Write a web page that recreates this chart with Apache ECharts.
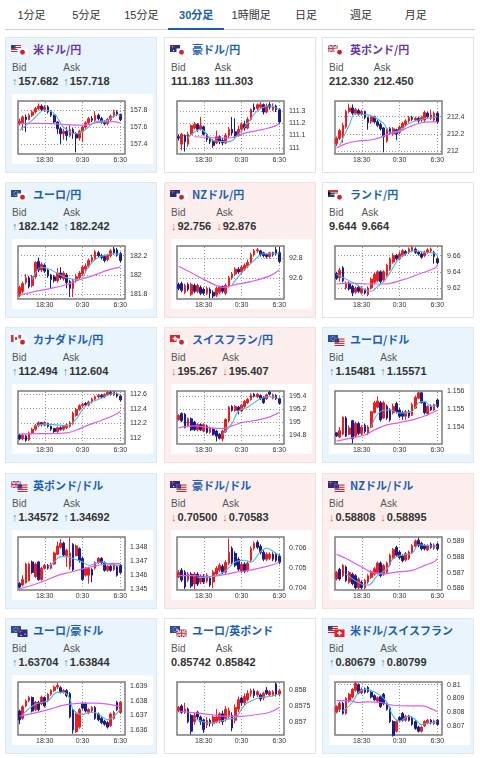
<!DOCTYPE html>
<html>
<head>
<meta charset="utf-8">
<script src="https://cdn.jsdelivr.net/npm/echarts@6/dist/echarts.min.js"></script>
<style>
body { margin: 0; width: 480px; height: 758px; background: #fff; position: relative; overflow: hidden;
  font-family: "Liberation Sans", Arial, "Noto Sans CJK JP", sans-serif; }
.tab { position: absolute; top: 6px; width: 55px; text-align: center; font-size: 11px; line-height: 18px; color: #333;
  font-family: "Liberation Sans", "Noto Sans CJK JP", sans-serif; }
.tab.on { color: #1b5dab; font-weight: bold; }
.tabline { position: absolute; left: 5px; top: 29px; width: 470px; height: 1px; background: #cfcfcf; }
.tabbar { position: absolute; top: 28px; height: 2px; background: #1b5dab; }
.card { position: absolute; width: 150px; height: 134px; border: 1px solid #e2e2e2; }
.card.up { background: #eaf4fc; border-color: #dfe8f0; }
.card.down { background: #fdeeee; border-color: #f1e1e1; }
.card.flat { background: #fff; border-color: #e2e2e2; }
.flag { position: absolute; left: 5px; top: 7px; }
.title { position: absolute; left: 27px; top: 3px; line-height: 17px; font-size: 11px; font-weight: bold; color: #1a5fb4;
  font-family: "Noto Sans CJK JP", sans-serif; }
.title.visited { color: #6a35a8; }
.quote { position: absolute; left: 6px; top: 23px; white-space: nowrap; }
.col { display: inline-block; margin-right: 5px; vertical-align: top; }
.lbl { font-size: 10px; line-height: 13px; color: #555; }
.val { font-size: 11px; line-height: 14px; font-weight: bold; color: #333; }
.arr { font-weight: normal; color: #4a8fb0; margin-right: 1px; }
.arr.dn { color: #e0605f; }
.chart { position: absolute; left: 6px; top: 56px; width: 141px; height: 70px; background: #fff; }
</style>
</head>
<body>
<script>
var tabs = ['1分足', '5分足', '15分足', '30分足', '1時間足', '日足', '週足', '月足'];
var activeTab = 3;

var times = ['14:30', '15:00', '15:30', '16:00', '16:30', '17:00', '17:30', '18:00', '18:30', '19:00',
  '19:30', '20:00', '20:30', '21:00', '21:30', '22:00', '22:30', '23:00', '23:30', '0:00',
  '0:30', '1:00', '1:30', '2:00', '2:30', '3:00', '3:30', '4:00', '4:30', '5:00',
  '5:30', '6:00', '6:30', '7:00'];
var timeLabels = ['18:30', '0:30', '6:30'];

var pairs = ['米ドル/円', '豪ドル/円', '英ポンド/円', 'ユーロ/円', 'NZドル/円', 'ランド/円',
  'カナダドル/円', 'スイスフラン/円', 'ユーロ/ドル', '英ポンド/ドル', '豪ドル/ドル', 'NZドル/ドル',
  'ユーロ/豪ドル', 'ユーロ/英ポンド', '米ドル/スイスフラン'];
var flags = [['us', 'jp'], ['au', 'jp'], ['gb', 'jp'], ['eu', 'jp'], ['nz', 'jp'], ['za', 'jp'],
  ['ca', 'jp'], ['ch', 'jp'], ['eu', 'us'], ['gb', 'us'], ['au', 'us'], ['nz', 'us'],
  ['eu', 'au'], ['eu', 'gb'], ['us', 'ch']];
var visited = [true, false, true, false, false, false, false, false, false, false, false, false, false, false, false];
var bids = ['157.682', '111.183', '212.330', '182.142', '92.756', '9.644', '112.494', '195.267',
  '1.15481', '1.34572', '0.70500', '0.58808', '1.63704', '0.85742', '0.80679'];
var asks = ['157.718', '111.303', '212.450', '182.242', '92.876', '9.664', '112.604', '195.407',
  '1.15571', '1.34692', '0.70583', '0.58895', '1.63844', '0.85842', '0.80799'];
var moves = ['up', 'flat', 'flat', 'up', 'down', 'flat', 'up', 'down',
  'up', 'up', 'down', 'down', 'up', 'flat', 'up'];

var yMin = [157.28, 110.95, 211.97, 181.75, 92.38, 9.6065, 111.92, 194.66,
  1.15306, 1.34494, 0.7039, 0.5859, 1.63566, 0.85658, 0.80632];
var yMax = [157.91, 111.38, 212.58, 182.30, 92.93, 9.6718, 112.64, 195.48,
  1.15600, 1.34874, 0.70657, 0.58925, 1.63929, 0.85826, 0.8102];
var yTicks = [
  [157.4, 157.6, 157.8], [111, 111.1, 111.2, 111.3], [212, 212.2, 212.4],
  [181.8, 182, 182.2], [92.6, 92.8], [9.62, 9.64, 9.66],
  [112, 112.2, 112.4, 112.6], [194.8, 195, 195.2, 195.4], [1.154, 1.155, 1.156],
  [1.345, 1.346, 1.347, 1.348], [0.704, 0.705, 0.706], [0.586, 0.587, 0.588, 0.589],
  [1.636, 1.637, 1.638, 1.639], [0.857, 0.8575, 0.858], [0.807, 0.808, 0.809, 0.81]
];

// [open, close, low, high]
var usdJpy = [[157.64,157.67,157.62,157.70],[157.64,157.72,157.56,157.74],[157.72,157.69,157.54,157.75],[157.69,157.74,157.68,157.76],[157.74,157.78,157.72,157.80],[157.78,157.82,157.76,157.84],[157.82,157.85,157.80,157.88],[157.85,157.81,157.79,157.87],[157.81,157.84,157.78,157.86],[157.84,157.78,157.76,157.86],[157.78,157.74,157.72,157.80],[157.74,157.66,157.64,157.75],[157.66,157.58,157.52,157.67],[157.58,157.52,157.40,157.60],[157.52,157.55,157.45,157.58],[157.55,157.50,157.44,157.60],[157.50,157.57,157.48,157.62],[157.57,157.52,157.46,157.59],[157.52,157.47,157.30,157.54],[157.47,157.55,157.44,157.57],[157.55,157.60,157.42,157.62],[157.60,157.65,157.58,157.67],[157.65,157.70,157.63,157.72],[157.70,157.68,157.66,157.73],[157.68,157.74,157.66,157.79],[157.74,157.70,157.68,157.76],[157.70,157.66,157.64,157.72],[157.66,157.64,157.62,157.68],[157.64,157.69,157.62,157.71],[157.69,157.73,157.67,157.75],[157.73,157.78,157.71,157.81],[157.78,157.75,157.73,157.80],[157.75,157.69,157.67,157.76]];
var usdJpyFast = [[0,157.56],[4,157.68],[8,157.80],[11,157.76],[14,157.60],[18,157.52],[21,157.57],[24,157.66],[28,157.68],[31,157.75],[32,157.73]];
var usdJpySlow = [[0,157.645],[5,157.645],[10,157.64],[15,157.63],[20,157.62],[25,157.655],[30,157.665],[32,157.645]];

var audJpy = [[111.09,111.08,111.06,111.11],[111.03,111.11,110.98,111.12],[111.10,111.05,110.97,111.11],[111.03,111.11,111.01,111.13],[111.11,111.18,111.10,111.19],[111.16,111.19,111.15,111.21],[111.19,111.15,111.13,111.20],[111.15,111.18,111.14,111.25],[111.17,111.11,111.10,111.18],[111.11,111.07,111.05,111.12],[111.08,111.05,111.03,111.09],[111.05,111.02,111.00,111.07],[111.04,111.09,111.03,111.14],[111.09,111.05,111.03,111.10],[111.06,111.04,111.02,111.08],[111.04,111.10,111.03,111.12],[111.10,111.15,111.08,111.17],[111.15,111.12,111.10,111.25],[111.13,111.10,111.08,111.24],[111.10,111.15,111.09,111.18],[111.15,111.19,111.13,111.21],[111.19,111.16,111.14,111.22],[111.16,111.23,111.15,111.25],[111.23,111.31,111.22,111.32],[111.33,111.31,111.29,111.36],[111.32,111.35,111.30,111.36],[111.33,111.35,111.32,111.37],[111.35,111.29,111.27,111.36],[111.29,111.34,111.28,111.36],[111.35,111.33,111.31,111.37],[111.31,111.34,111.30,111.36],[111.34,111.31,111.29,111.35],[111.31,111.21,111.19,111.32]];
var audJpyFast = [[3,111.08],[7,111.15],[11,111.06],[16,111.05],[19,111.11],[22,111.20],[25,111.30],[29,111.34],[32,111.31]];
var audJpySlow = [[5,111.09],[16,111.08],[21,111.12],[27,111.15],[31,111.18],[32,111.20]];

var gbpJpy = [[212.09,212.15,212.06,212.17],[212.15,212.24,212.13,212.26],[212.18,212.30,212.10,212.33],[212.28,212.46,212.26,212.48],[212.46,212.50,212.44,212.55],[212.50,212.44,212.42,212.54],[212.44,212.48,212.42,212.50],[212.47,212.43,212.41,212.49],[212.43,212.46,212.41,212.48],[212.46,212.39,212.37,212.47],[212.39,212.33,212.25,212.40],[212.34,212.40,212.32,212.42],[212.40,212.34,212.32,212.41],[212.34,212.30,212.28,212.36],[212.31,212.26,212.24,212.33],[212.27,212.17,211.99,212.28],[212.12,212.26,212.10,212.28],[212.26,212.21,212.19,212.28],[212.20,212.26,212.18,212.28],[212.25,212.20,212.13,212.26],[212.22,212.28,212.20,212.30],[212.27,212.32,212.25,212.34],[212.31,212.35,212.29,212.37],[212.35,212.39,212.33,212.41],[212.39,212.37,212.35,212.41],[212.36,212.38,212.35,212.40],[212.38,212.35,212.33,212.40],[212.36,212.39,212.34,212.41],[212.36,212.45,212.34,212.47],[212.44,212.40,212.38,212.46],[212.38,212.42,212.36,212.48],[212.36,212.44,212.34,212.46],[212.44,212.34,212.32,212.46]];
var gbpJpyFast = [[1,212.07],[4,212.30],[6,212.43],[10,212.42],[15,212.32],[17,212.22],[20,212.24],[23,212.32],[27,212.37],[31,212.39],[32,212.40]];
var gbpJpySlow = [[0,212.04],[3,212.09],[7,212.12],[12,212.14],[16,212.19],[20,212.23],[23,212.28],[27,212.33],[30,212.34],[32,212.34]];

var eurJpy = [[181.79,181.87,181.77,181.89],[181.83,181.91,181.81,181.93],[181.92,181.97,181.90,182.01],[181.97,181.88,181.86,181.99],[181.89,181.98,181.87,182.00],[181.98,182.13,181.96,182.14],[182.14,182.05,182.03,182.18],[182.05,182.11,182.03,182.13],[182.10,182.04,182.02,182.12],[182.05,181.99,181.97,182.06],[182.00,181.95,181.86,182.01],[181.98,181.94,181.92,182.00],[181.94,182.02,181.92,182.07],[182.02,181.97,181.95,182.08],[181.96,182.02,181.94,182.04],[182.00,181.92,181.86,182.02],[181.93,181.86,181.77,181.95],[181.86,181.94,181.77,181.96],[181.94,181.98,181.92,182.01],[181.97,182.02,181.95,182.04],[182.01,182.08,181.99,182.10],[182.06,182.09,182.04,182.12],[182.09,182.15,182.07,182.17],[182.15,182.18,182.13,182.21],[182.17,182.24,182.15,182.26],[182.23,182.20,182.18,182.25],[182.20,182.18,182.16,182.22],[182.19,182.15,182.13,182.21],[182.16,182.20,182.14,182.22],[182.20,182.25,182.18,182.27],[182.27,182.23,182.21,182.29],[182.26,182.21,182.19,182.28],[182.22,182.15,182.13,182.24]];
var eurJpyFast = [[4,181.95],[7,182.08],[15,181.97],[19,181.95],[22,182.09],[25,182.18],[30,182.22],[32,182.21]];
var eurJpySlow = [[0,181.79],[5,181.83],[10,181.86],[15,181.90],[19,181.95],[24,182.00],[28,182.05],[32,182.08]];

var nzdJpy = [[92.53,92.49,92.47,92.55],[92.54,92.47,92.45,92.56],[92.45,92.52,92.43,92.54],[92.53,92.48,92.46,92.55],[92.43,92.53,92.41,92.55],[92.52,92.46,92.44,92.54],[92.46,92.52,92.44,92.54],[92.50,92.44,92.42,92.52],[92.48,92.44,92.42,92.50],[92.44,92.49,92.42,92.51],[92.48,92.44,92.39,92.50],[92.45,92.41,92.39,92.47],[92.42,92.49,92.40,92.51],[92.45,92.51,92.43,92.52],[92.51,92.46,92.44,92.52],[92.44,92.52,92.42,92.54],[92.52,92.60,92.50,92.62],[92.60,92.64,92.58,92.66],[92.64,92.69,92.62,92.71],[92.69,92.66,92.64,92.71],[92.66,92.71,92.64,92.73],[92.69,92.73,92.67,92.75],[92.72,92.76,92.70,92.79],[92.76,92.84,92.74,92.86],[92.84,92.88,92.82,92.90],[92.88,92.89,92.86,92.91],[92.88,92.84,92.82,92.89],[92.86,92.83,92.81,92.87],[92.84,92.82,92.80,92.85],[92.82,92.86,92.80,92.87],[92.86,92.84,92.82,92.87],[92.89,92.85,92.83,92.92],[92.86,92.77,92.75,92.92]];
var nzdJpyFast = [[17,92.53],[20,92.65],[24,92.78],[27,92.85],[32,92.85]];
var nzdJpySlow = [[0,92.72],[3,92.67],[7,92.60],[12,92.52],[14,92.50],[18,92.53],[23,92.56],[29,92.62],[32,92.68]];

var zarJpy = [[9.638,9.632,9.630,9.640],[9.633,9.642,9.628,9.645],[9.645,9.629,9.627,9.647],[9.620,9.626,9.618,9.628],[9.626,9.619,9.617,9.628],[9.622,9.614,9.610,9.624],[9.615,9.620,9.613,9.622],[9.621,9.616,9.614,9.623],[9.614,9.620,9.612,9.622],[9.618,9.614,9.612,9.619],[9.612,9.620,9.610,9.622],[9.620,9.631,9.618,9.633],[9.627,9.637,9.625,9.639],[9.629,9.640,9.627,9.642],[9.640,9.628,9.626,9.642],[9.630,9.640,9.628,9.642],[9.636,9.648,9.634,9.650],[9.643,9.656,9.641,9.658],[9.652,9.660,9.650,9.663],[9.660,9.656,9.654,9.662],[9.656,9.662,9.654,9.665],[9.660,9.666,9.658,9.668],[9.665,9.662,9.660,9.667],[9.664,9.668,9.662,9.670],[9.666,9.670,9.664,9.672],[9.668,9.664,9.662,9.670],[9.664,9.662,9.660,9.666],[9.662,9.658,9.656,9.664],[9.660,9.664,9.658,9.666],[9.664,9.667,9.662,9.669],[9.666,9.668,9.664,9.670],[9.664,9.659,9.650,9.666],[9.656,9.651,9.649,9.658]];
var zarJpyFast = [[0,9.637],[3,9.631],[6,9.625],[9,9.618],[11,9.616],[13,9.622],[15,9.628],[17,9.639],[19,9.652],[21,9.660],[25,9.666],[28,9.664],[31,9.663],[32,9.660]];
var zarJpySlow = [[0,9.625],[5,9.626],[10,9.625],[15,9.625],[21,9.630],[26,9.637],[31,9.644],[32,9.648]];

var cadJpy = [[112.04,111.99,111.97,112.06],[111.99,112.04,111.97,112.06],[112.03,111.97,111.95,112.05],[111.98,112.07,111.96,112.09],[112.07,112.12,112.05,112.14],[112.12,112.17,112.10,112.19],[112.17,112.21,112.15,112.23],[112.21,112.18,112.16,112.22],[112.18,112.21,112.16,112.23],[112.20,112.16,112.14,112.21],[112.16,112.12,112.10,112.17],[112.13,112.09,112.07,112.14],[112.09,112.14,112.07,112.16],[112.14,112.12,112.10,112.16],[112.12,112.16,112.10,112.17],[112.14,112.18,112.12,112.20],[112.16,112.21,112.14,112.23],[112.20,112.34,112.18,112.36],[112.31,112.39,112.29,112.41],[112.39,112.44,112.37,112.46],[112.44,112.46,112.42,112.48],[112.47,112.45,112.43,112.49],[112.45,112.49,112.43,112.51],[112.49,112.53,112.47,112.55],[112.53,112.56,112.51,112.58],[112.56,112.58,112.54,112.60],[112.58,112.56,112.54,112.60],[112.56,112.59,112.54,112.61],[112.59,112.62,112.57,112.64],[112.62,112.60,112.58,112.64],[112.59,112.63,112.57,112.64],[112.60,112.57,112.55,112.62],[112.57,112.52,112.50,112.59]];
var cadJpyFast = [[5,112.16],[8,112.19],[15,112.17],[18,112.26],[20,112.39],[22,112.47],[26,112.54],[30,112.61],[32,112.59]];
var cadJpySlow = [[0,112.055],[5,112.06],[10,112.06],[15,112.07],[18,112.11],[22,112.18],[26,112.24],[30,112.31],[32,112.36]];

var chfJpy = [[195.04,195.10,195.02,195.12],[195.13,195.02,195.00,195.15],[195.12,194.92,194.90,195.14],[194.94,195.05,194.92,195.07],[195.05,194.88,194.86,195.07],[195.00,194.88,194.86,195.02],[194.88,194.96,194.86,194.98],[194.96,194.88,194.86,194.98],[194.86,194.96,194.84,194.98],[194.94,194.84,194.82,194.96],[194.84,194.91,194.82,194.93],[194.89,194.81,194.79,194.91],[194.86,194.78,194.70,194.88],[194.81,194.75,194.73,194.83],[194.74,194.86,194.70,194.88],[194.85,195.04,194.83,195.06],[195.02,195.23,195.00,195.25],[195.24,195.18,195.16,195.26],[195.18,195.24,195.16,195.26],[195.23,195.18,195.12,195.25],[195.17,195.26,195.15,195.28],[195.24,195.32,195.22,195.34],[195.30,195.35,195.28,195.37],[195.35,195.42,195.33,195.44],[195.43,195.40,195.38,195.45],[195.39,195.43,195.37,195.45],[195.41,195.36,195.34,195.43],[195.38,195.30,195.28,195.40],[195.36,195.42,195.34,195.44],[195.46,195.43,195.41,195.48],[195.37,195.42,195.35,195.44],[195.41,195.36,195.34,195.43],[195.36,195.29,195.27,195.38]];
var chfJpyFast = [[14,194.81],[17,194.98],[19,195.17],[22,195.23],[26,195.36],[29,195.39],[32,195.36]];
var chfJpySlow = [[0,194.91],[5,194.94],[10,194.91],[14,194.90],[17,194.94],[20,194.99],[25,195.03],[29,195.08],[32,195.15]];

var eurUsd = [[1.15368,1.15352,1.15345,1.15370],[1.15345,1.15380,1.15340,1.15400],[1.15360,1.15455,1.15355,1.15460],[1.15450,1.15350,1.15345,1.15460],[1.15360,1.15395,1.15355,1.15410],[1.15435,1.15335,1.15310,1.15440],[1.15350,1.15420,1.15345,1.15430],[1.15420,1.15365,1.15355,1.15430],[1.15365,1.15400,1.15355,1.15410],[1.15410,1.15375,1.15365,1.15420],[1.15365,1.15400,1.15355,1.15410],[1.15400,1.15485,1.15395,1.15490],[1.15480,1.15535,1.15475,1.15545],[1.15510,1.15545,1.15505,1.15570],[1.15535,1.15440,1.15430,1.15545],[1.15450,1.15535,1.15445,1.15545],[1.15515,1.15450,1.15440,1.15525],[1.15495,1.15440,1.15430,1.15505],[1.15480,1.15515,1.15470,1.15530],[1.15530,1.15485,1.15475,1.15540],[1.15495,1.15460,1.15450,1.15505],[1.15480,1.15460,1.15440,1.15490],[1.15460,1.15485,1.15440,1.15495],[1.15485,1.15460,1.15450,1.15495],[1.15465,1.15525,1.15460,1.15535],[1.15505,1.15565,1.15500,1.15575],[1.15560,1.15590,1.15555,1.15595],[1.15590,1.15535,1.15530,1.15595],[1.15535,1.15480,1.15470,1.15540],[1.15475,1.15515,1.15465,1.15520],[1.15515,1.15495,1.15490,1.15525],[1.15495,1.15525,1.15490,1.15530],[1.15550,1.15515,1.15505,1.15555]];
var eurUsdFast = [[11,1.15403],[14,1.15487],[17,1.15496],[20,1.15478],[24,1.15487],[26,1.15534],[28,1.15543],[30,1.15515],[32,1.15524]];
var eurUsdSlow = [[0,1.15322],[4,1.15337],[9,1.15356],[12,1.15384],[16,1.15412],[20,1.15425],[25,1.15444],[29,1.15468],[32,1.15493]];

var gbpUsd = [[1.34540,1.34515,1.34505,1.34550],[1.34530,1.34570,1.34520,1.34600],[1.34545,1.34680,1.34540,1.34690],[1.34560,1.34680,1.34555,1.34690],[1.34695,1.34620,1.34610,1.34705],[1.34590,1.34680,1.34580,1.34690],[1.34695,1.34570,1.34560,1.34700],[1.34570,1.34650,1.34560,1.34660],[1.34650,1.34670,1.34640,1.34680],[1.34670,1.34650,1.34640,1.34680],[1.34650,1.34680,1.34640,1.34690],[1.34680,1.34760,1.34675,1.34770],[1.34750,1.34810,1.34745,1.34840],[1.34800,1.34830,1.34790,1.34860],[1.34830,1.34745,1.34735,1.34840],[1.34740,1.34780,1.34660,1.34790],[1.34660,1.34760,1.34640,1.34870],[1.34820,1.34640,1.34630,1.34830],[1.34740,1.34810,1.34735,1.34820],[1.34790,1.34705,1.34690,1.34800],[1.34720,1.34570,1.34560,1.34730],[1.34600,1.34650,1.34590,1.34660],[1.34600,1.34650,1.34540,1.34660],[1.34640,1.34600,1.34550,1.34650],[1.34650,1.34690,1.34640,1.34700],[1.34690,1.34720,1.34680,1.34730],[1.34720,1.34690,1.34680,1.34730],[1.34690,1.34635,1.34625,1.34700],[1.34635,1.34665,1.34625,1.34675],[1.34665,1.34635,1.34625,1.34675],[1.34640,1.34680,1.34630,1.34690],[1.34660,1.34600,1.34590,1.34670],[1.34670,1.34620,1.34610,1.34680]];
var gbpUsdFast = [[9,1.34658],[11,1.34695],[13,1.34733],[15,1.34733],[17,1.34720],[20,1.34695],[22,1.34671],[24,1.34683],[26,1.34695],[29,1.34676],[32,1.34671]];
var gbpUsdSlow = [[0,1.34503],[4,1.34528],[8,1.34560],[12,1.34597],[16,1.34621],[21,1.34651],[25,1.34671],[29,1.34683],[32,1.34683]];

var audUsd = [[0.70455,0.70480,0.70450,0.70490],[0.70490,0.70440,0.70430,0.70500],[0.70480,0.70405,0.70395,0.70490],[0.70440,0.70470,0.70430,0.70480],[0.70470,0.70410,0.70400,0.70480],[0.70420,0.70470,0.70395,0.70480],[0.70470,0.70420,0.70410,0.70480],[0.70430,0.70460,0.70420,0.70470],[0.70460,0.70430,0.70420,0.70470],[0.70435,0.70465,0.70425,0.70475],[0.70450,0.70415,0.70405,0.70460],[0.70430,0.70480,0.70400,0.70490],[0.70470,0.70500,0.70460,0.70510],[0.70490,0.70515,0.70480,0.70525],[0.70510,0.70480,0.70470,0.70520],[0.70480,0.70530,0.70470,0.70540],[0.70525,0.70580,0.70515,0.70650],[0.70600,0.70530,0.70520,0.70610],[0.70575,0.70515,0.70505,0.70585],[0.70545,0.70495,0.70485,0.70555],[0.70485,0.70520,0.70475,0.70530],[0.70520,0.70485,0.70475,0.70530],[0.70490,0.70525,0.70480,0.70535],[0.70540,0.70600,0.70530,0.70610],[0.70600,0.70625,0.70590,0.70635],[0.70630,0.70605,0.70595,0.70640],[0.70610,0.70580,0.70570,0.70620],[0.70580,0.70545,0.70535,0.70590],[0.70545,0.70570,0.70535,0.70580],[0.70550,0.70570,0.70540,0.70580],[0.70570,0.70545,0.70535,0.70580],[0.70570,0.70540,0.70530,0.70580],[0.70560,0.70530,0.70520,0.70570]];
var audUsdFast = [[6,0.70453],[12,0.70462],[15,0.70488],[18,0.70531],[21,0.70540],[23,0.70531],[26,0.70583],[28,0.70600],[31,0.70574],[32,0.70562]];
var audUsdSlow = [[0,0.70462],[4,0.70462],[10,0.70459],[14,0.70466],[18,0.70479],[22,0.70488],[27,0.70505],[31,0.70522],[32,0.70534]];

var nzdUsd = [[0.58660,0.58700,0.58650,0.58710],[0.58720,0.58660,0.58650,0.58730],[0.58680,0.58745,0.58670,0.58755],[0.58735,0.58650,0.58640,0.58745],[0.58640,0.58700,0.58630,0.58710],[0.58690,0.58630,0.58620,0.58700],[0.58680,0.58605,0.58595,0.58690],[0.58605,0.58660,0.58595,0.58670],[0.58640,0.58605,0.58595,0.58650],[0.58605,0.58650,0.58595,0.58660],[0.58640,0.58680,0.58630,0.58690],[0.58670,0.58705,0.58660,0.58715],[0.58690,0.58725,0.58680,0.58735],[0.58700,0.58760,0.58690,0.58770],[0.58760,0.58680,0.58670,0.58770],[0.58690,0.58745,0.58680,0.58755],[0.58700,0.58760,0.58690,0.58770],[0.58750,0.58810,0.58740,0.58820],[0.58790,0.58845,0.58780,0.58855],[0.58860,0.58810,0.58800,0.58870],[0.58830,0.58795,0.58785,0.58840],[0.58805,0.58775,0.58765,0.58815],[0.58780,0.58820,0.58770,0.58830],[0.58790,0.58830,0.58780,0.58840],[0.58830,0.58870,0.58820,0.58880],[0.58865,0.58900,0.58855,0.58910],[0.58905,0.58870,0.58860,0.58920],[0.58885,0.58850,0.58840,0.58895],[0.58870,0.58850,0.58840,0.58880],[0.58845,0.58870,0.58835,0.58880],[0.58880,0.58860,0.58850,0.58890],[0.58855,0.58875,0.58845,0.58885],[0.58880,0.58850,0.58840,0.58890]];
var nzdUsdFast = [[3,0.58692],[8,0.58627],[10,0.58621],[13,0.58681],[16,0.58724],[18,0.58789],[21,0.58811],[24,0.58822],[26,0.58876],[29,0.58871],[32,0.58865]];
var nzdUsdSlow = [[0,0.58815],[3,0.58789],[8,0.58735],[11,0.58703],[15,0.58692],[19,0.58703],[24,0.58714],[28,0.58746],[31,0.58768],[32,0.58789]];

var eurAud = [[1.63730,1.63670,1.63640,1.63740],[1.63680,1.63760,1.63670,1.63770],[1.63765,1.63800,1.63755,1.63810],[1.63800,1.63823,1.63790,1.63835],[1.63823,1.63730,1.63720,1.63830],[1.63740,1.63790,1.63730,1.63800],[1.63790,1.63740,1.63730,1.63800],[1.63780,1.63825,1.63770,1.63835],[1.63823,1.63765,1.63755,1.63830],[1.63800,1.63845,1.63790,1.63855],[1.63845,1.63870,1.63835,1.63880],[1.63870,1.63894,1.63860,1.63905],[1.63894,1.63905,1.63880,1.63925],[1.63890,1.63860,1.63850,1.63900],[1.63860,1.63870,1.63850,1.63880],[1.63870,1.63835,1.63825,1.63880],[1.63850,1.63690,1.63680,1.63860],[1.63740,1.63600,1.63575,1.63750],[1.63590,1.63710,1.63580,1.63720],[1.63620,1.63740,1.63610,1.63750],[1.63780,1.63750,1.63740,1.63790],[1.63780,1.63730,1.63720,1.63790],[1.63720,1.63740,1.63710,1.63750],[1.63730,1.63755,1.63720,1.63765],[1.63755,1.63680,1.63670,1.63765],[1.63710,1.63670,1.63660,1.63720],[1.63680,1.63650,1.63640,1.63690],[1.63660,1.63640,1.63630,1.63670],[1.63650,1.63620,1.63610,1.63660],[1.63630,1.63710,1.63620,1.63720],[1.63680,1.63720,1.63670,1.63730],[1.63790,1.63740,1.63730,1.63800],[1.63720,1.63790,1.63710,1.63800]];
var eurAudFast = [[1,1.63706],[5,1.63777],[9,1.63800],[12,1.63858],[14,1.63858],[16,1.63812],[17,1.63741],[20,1.63706],[22,1.63718],[24,1.63718],[26,1.63695],[28,1.63671],[30,1.63695],[32,1.63741]];
var eurAudSlow = [[0,1.63695],[5,1.63718],[10,1.63745],[13,1.63765],[16,1.63777],[20,1.63784],[24,1.63784],[28,1.63777],[32,1.63760]];

var eurGbp = [[0.85735,0.85745,0.85730,0.85750],[0.85750,0.85730,0.85725,0.85755],[0.85730,0.85740,0.85725,0.85760],[0.85740,0.85700,0.85695,0.85745],[0.85720,0.85670,0.85660,0.85725],[0.85700,0.85720,0.85690,0.85730],[0.85730,0.85715,0.85705,0.85735],[0.85715,0.85700,0.85690,0.85720],[0.85705,0.85675,0.85665,0.85710],[0.85690,0.85705,0.85680,0.85715],[0.85705,0.85695,0.85685,0.85710],[0.85695,0.85715,0.85685,0.85720],[0.85700,0.85715,0.85695,0.85740],[0.85705,0.85725,0.85695,0.85730],[0.85725,0.85700,0.85690,0.85735],[0.85710,0.85740,0.85700,0.85750],[0.85720,0.85735,0.85710,0.85745],[0.85720,0.85680,0.85670,0.85730],[0.85705,0.85745,0.85695,0.85755],[0.85740,0.85770,0.85730,0.85780],[0.85775,0.85760,0.85750,0.85780],[0.85760,0.85780,0.85750,0.85790],[0.85770,0.85790,0.85765,0.85800],[0.85790,0.85798,0.85780,0.85805],[0.85798,0.85783,0.85775,0.85805],[0.85785,0.85795,0.85778,0.85800],[0.85785,0.85772,0.85765,0.85790],[0.85775,0.85790,0.85768,0.85795],[0.85800,0.85790,0.85785,0.85810],[0.85785,0.85795,0.85780,0.85800],[0.85785,0.85795,0.85780,0.85800],[0.85820,0.85788,0.85780,0.85825],[0.85788,0.85798,0.85780,0.85805]];
var eurGbpFast = [[5,0.85712],[10,0.85696],[13,0.85701],[16,0.85709],[18,0.85712],[20,0.85739],[22,0.85761],[26,0.85777],[29,0.85780],[32,0.85788]];
var eurGbpSlow = [[0,0.85734],[5,0.85728],[10,0.85723],[15,0.85717],[20,0.85717],[25,0.85723],[29,0.85730],[32,0.85745]];

var usdChf = [[0.80800,0.80840,0.80790,0.80850],[0.80820,0.80865,0.80800,0.80875],[0.80865,0.80790,0.80780,0.80875],[0.80790,0.80900,0.80780,0.80910],[0.80880,0.80930,0.80870,0.80940],[0.80910,0.80965,0.80900,0.80975],[0.80960,0.81010,0.80950,0.81020],[0.81000,0.80940,0.80930,0.81010],[0.80940,0.80965,0.80930,0.80980],[0.80970,0.80945,0.80935,0.80980],[0.80980,0.80950,0.80940,0.80990],[0.80945,0.80910,0.80900,0.80955],[0.80920,0.80890,0.80880,0.80930],[0.80880,0.80905,0.80870,0.80915],[0.80915,0.80840,0.80830,0.80925],[0.80930,0.80860,0.80850,0.80940],[0.80860,0.80820,0.80810,0.80870],[0.80830,0.80730,0.80720,0.80840],[0.80730,0.80630,0.80620,0.80740],[0.80660,0.80730,0.80650,0.80740],[0.80760,0.80740,0.80730,0.80770],[0.80790,0.80740,0.80730,0.80800],[0.80740,0.80770,0.80730,0.80780],[0.80770,0.80740,0.80730,0.80780],[0.80760,0.80710,0.80700,0.80770],[0.80730,0.80680,0.80670,0.80740],[0.80690,0.80660,0.80650,0.80700],[0.80660,0.80690,0.80650,0.80700],[0.80700,0.80730,0.80690,0.80740],[0.80720,0.80740,0.80710,0.80750],[0.80740,0.80720,0.80710,0.80750],[0.80715,0.80735,0.80705,0.80745],[0.80740,0.80710,0.80700,0.80750]];
var usdChfFast = [[2,0.80808],[5,0.80870],[7,0.80945],[9,0.80965],[11,0.80958],[14,0.80920],[16,0.80870],[18,0.80770],[20,0.80733],[23,0.80770],[25,0.80745],[27,0.80708],[29,0.80720],[31,0.80725],[32,0.80733]];
var usdChfSlow = [[0,0.80883],[4,0.80883],[7,0.80870],[10,0.80875],[14,0.80870],[18,0.80850],[23,0.80845],[27,0.80845],[31,0.80815],[32,0.80800]];

var ohlcList = [usdJpy, audJpy, gbpJpy, eurJpy, nzdJpy, zarJpy, cadJpy, chfJpy, eurUsd, gbpUsd, audUsd, nzdUsd, eurAud, eurGbp, usdChf];
var fastList = [usdJpyFast, audJpyFast, gbpJpyFast, eurJpyFast, nzdJpyFast, zarJpyFast, cadJpyFast, chfJpyFast, eurUsdFast, gbpUsdFast, audUsdFast, nzdUsdFast, eurAudFast, eurGbpFast, usdChfFast];
var slowList = [usdJpySlow, audJpySlow, gbpJpySlow, eurJpySlow, nzdJpySlow, zarJpySlow, cadJpySlow, chfJpySlow, eurUsdSlow, gbpUsdSlow, audUsdSlow, nzdUsdSlow, eurAudSlow, eurGbpSlow, usdChfSlow];

// tabs
tabs.forEach(function (t, i) {
  var d = document.createElement('div');
  d.className = 'tab' + (i === activeTab ? ' on' : '');
  d.style.left = (4 + i * 54.9) + 'px';
  d.textContent = t;
  document.body.appendChild(d);
});
var line = document.createElement('div');
line.className = 'tabline';
document.body.appendChild(line);
var bar = document.createElement('div');
bar.className = 'tabbar';
bar.style.left = (4 + activeTab * 54.9 - 0.5) + 'px';
bar.style.width = '56px';
document.body.appendChild(bar);

// small flag pictures
function flagShapes(code, x, y, w, h) {
  function r(fx, fy, fw, fh, c) {
    return '<rect x="' + (x + fx * w) + '" y="' + (y + fy * h) + '" width="' + (fw * w) + '" height="' + (fh * h) + '" fill="' + c + '"/>';
  }
  var s = '';
  if (code === 'us') {
    s = r(0, 0, 1, 1, '#fff') + r(0, 0, 1, 0.15, '#c8252c') + r(0, 0.29, 1, 0.15, '#c8252c') + r(0, 0.57, 1, 0.15, '#c8252c') + r(0, 0.85, 1, 0.15, '#c8252c') + r(0, 0, 0.45, 0.55, '#2c3b8f');
  } else if (code === 'jp') {
    s = r(0, 0, 1, 1, '#fff') + '<circle cx="' + (x + w / 2) + '" cy="' + (y + h / 2) + '" r="' + (h * 0.32) + '" fill="#d3202c"/>';
  } else if (code === 'au') {
    s = r(0, 0, 1, 1, '#22307f') + r(0.2, 0, 0.1, 0.5, '#e03a3a') + r(0, 0.2, 0.5, 0.1, '#e03a3a') + r(0.7, 0.55, 0.12, 0.15, '#fff') + r(0.3, 0.72, 0.12, 0.15, '#fff');
  } else if (code === 'gb') {
    s = r(0, 0, 1, 1, '#22307f') +
      '<path d="M' + x + ' ' + y + 'L' + (x + w) + ' ' + (y + h) + 'M' + (x + w) + ' ' + y + 'L' + x + ' ' + (y + h) + '" stroke="#fff" stroke-width="1.6"/>' +
      '<path d="M' + x + ' ' + y + 'L' + (x + w) + ' ' + (y + h) + 'M' + (x + w) + ' ' + y + 'L' + x + ' ' + (y + h) + '" stroke="#d8303a" stroke-width="0.6"/>' +
      r(0.38, 0, 0.24, 1, '#fff') + r(0, 0.35, 1, 0.3, '#fff') + r(0.44, 0, 0.12, 1, '#d8303a') + r(0, 0.42, 1, 0.16, '#d8303a');
  } else if (code === 'eu') {
    s = r(0, 0, 1, 1, '#2a4aa8') + '<circle cx="' + (x + w / 2) + '" cy="' + (y + h / 2) + '" r="' + (h * 0.3) + '" fill="none" stroke="#f2d33a" stroke-width="0.9" stroke-dasharray="0.8 0.8"/>';
  } else if (code === 'nz') {
    s = r(0, 0, 1, 1, '#22307f') + r(0.2, 0, 0.1, 0.5, '#e03a3a') + r(0, 0.2, 0.5, 0.1, '#e03a3a') + r(0.68, 0.25, 0.12, 0.14, '#e03a3a') + r(0.78, 0.6, 0.12, 0.14, '#e03a3a');
  } else if (code === 'za') {
    s = r(0, 0, 1, 0.5, '#d8303a') + r(0, 0.5, 1, 0.5, '#23408f') + r(0, 0.36, 1, 0.28, '#fff') + r(0, 0.42, 1, 0.16, '#0b7a3e') +
      '<path d="M' + x + ' ' + (y + h * 0.15) + 'L' + (x + w * 0.35) + ' ' + (y + h / 2) + 'L' + x + ' ' + (y + h * 0.85) + 'Z" fill="#111"/>';
  } else if (code === 'ca') {
    s = r(0, 0, 1, 1, '#fff') + r(0, 0, 0.26, 1, '#d8303a') + r(0.74, 0, 0.26, 1, '#d8303a') + r(0.4, 0.3, 0.2, 0.4, '#d8303a');
  } else if (code === 'ch') {
    s = r(0, 0, 1, 1, '#e0202a') + r(0.42, 0.2, 0.16, 0.6, '#fff') + r(0.27, 0.4, 0.46, 0.2, '#fff');
  }
  return s;
}

var cardLeft = [5, 164, 322];
var upColor = '#f01c1c';
var downColor = '#1b1b8c';

pairs.forEach(function (name, i) {
  var card = document.createElement('div');
  card.className = 'card ' + moves[i];
  card.style.left = cardLeft[i % 3] + 'px';
  card.style.top = (37 + Math.floor(i / 3) * 145.2) + 'px';

  var arrow = moves[i] === 'up' ? '<span class="arr">↑</span>' : (moves[i] === 'down' ? '<span class="arr dn">↓</span>' : '');
  card.innerHTML =
    '<svg class="flag" width="17" height="12" viewBox="0 0 17 12">' +
    flagShapes(flags[i][0], 0, 0, 10, 7) + flagShapes(flags[i][1], 6.5, 3.5, 10, 7.5) + '</svg>' +
    '<div class="title' + (visited[i] ? ' visited' : '') + '">' + name + '</div>' +
    '<div class="quote">' +
    '<div class="col"><div class="lbl">Bid</div><div class="val">' + arrow + bids[i] + '</div></div>' +
    '<div class="col"><div class="lbl">Ask</div><div class="val">' + arrow + asks[i] + '</div></div>' +
    '</div>' +
    '<div class="chart" id="c' + i + '"></div>';
  document.body.appendChild(card);

  var chart = echarts.init(document.getElementById('c' + i));
  var gridLines = yTicks[i].map(function (v) { return { yAxis: v }; })
    .concat(timeLabels.map(function (t) { return { xAxis: t }; }));

  chart.setOption({
    animation: false,
    grid: {
      left: 6, right: 28, top: 7, bottom: 10,
      show: true, borderColor: '#7b7b7b', borderWidth: 1.5,
      outerBoundsMode: 'none'
    },
    xAxis: {
      type: 'category',
      data: times,
      boundaryGap: true,
      axisLine: { show: false },
      axisTick: { show: false },
      splitLine: { show: false },
      axisLabel: {
        interval: function (idx, val) { return timeLabels.indexOf(val) >= 0; },
        fontSize: 7, color: '#333', margin: 3, fontFamily: 'Liberation Sans'
      }
    },
    yAxis: {
      type: 'value',
      position: 'right',
      min: yMin[i],
      max: yMax[i],
      axisLine: { show: false },
      axisTick: { show: false },
      splitLine: { show: false },
      axisLabel: {
        customValues: yTicks[i],
        formatter: function (v) { return String(parseFloat(v.toFixed(5))); },
        fontSize: 7, color: '#333', margin: 5, fontFamily: 'Liberation Sans'
      }
    },
    series: [
      {
        type: 'candlestick',
        data: ohlcList[i],
        barWidth: '70%',
        z: 2,
        itemStyle: { color: upColor, color0: downColor, borderColor: upColor, borderColor0: downColor, borderWidth: 1 },
        markLine: {
          silent: true,
          z: 1,
          symbol: ['none', 'none'],
          label: { show: false },
          animation: false,
          lineStyle: { type: [1, 2], color: '#9a9a9a', width: 1 },
          data: gridLines
        }
      },
      {
        type: 'line',
        data: slowList[i],
        smooth: 0.4,
        symbol: 'none',
        z: 3,
        lineStyle: { color: '#dc5cf0', width: 1.2 }
      },
      {
        type: 'line',
        data: fastList[i],
        smooth: 0.4,
        symbol: 'none',
        z: 4,
        lineStyle: { color: '#4cb4ec', width: 1.1 }
      }
    ]
  });
});
</script>
</body>
</html>
